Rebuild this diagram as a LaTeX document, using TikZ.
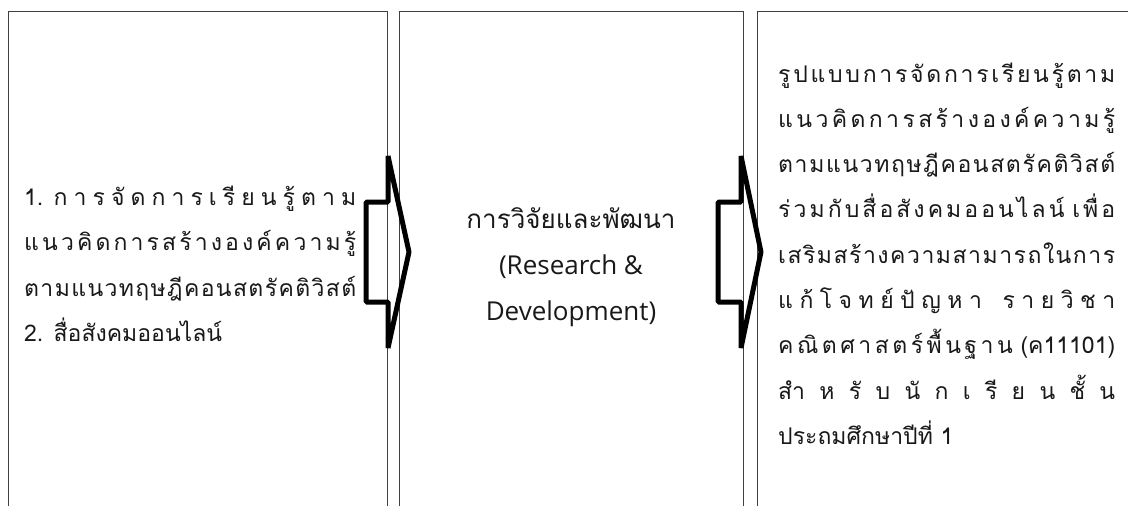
\documentclass[tikz,border=0pt]{standalone}
\usepackage{fontspec}
\setmainfont[Script=Thai]{Loma}
\newfontfamily\latinfont{Open Sans}
\usetikzlibrary{calc}

% Thai distributed lines: stretch between character cells
\newXeTeXintercharclass\thaibase
\newXeTeXintercharclass\thaimark
\makeatletter
\count@="0E01
\loop\XeTeXcharclass\count@=\thaibase\advance\count@\@ne\ifnum\count@<"0E5C\repeat
\count@="0E34
\loop\XeTeXcharclass\count@=\thaimark\advance\count@\@ne\ifnum\count@<"0E3B\repeat
\count@="0E47
\loop\XeTeXcharclass\count@=\thaimark\advance\count@\@ne\ifnum\count@<"0E4F\repeat
\makeatother
\XeTeXcharclass"0E31=\thaimark
\XeTeXcharclass"0E33=\thaimark
\XeTeXinterchartoks\thaibase\thaibase={\nobreak\hskip0pt plus1fil\relax}
\XeTeXinterchartoks\thaimark\thaibase={\nobreak\hskip0pt plus1fil\relax}
\newcommand{\jline}[1]{\noindent\makebox[\hsize][s]{\XeTeXinterchartokenstate=1 #1}\par}
\newcommand{\lastline}[1]{\noindent#1\par}

\begin{document}
\begin{tikzpicture}[x=1pt, y=-1pt]
        \tikzstyle{panel} = [draw=black!75, line width=1pt, rectangle, minimum height=540pt, inner sep=0pt, anchor=north west]
        \tikzstyle{blockarrow} = [draw=black, line width=5pt, line join=bevel]
        \tikzstyle{label} = [inner sep=0pt, text=black!90]
        \useasboundingbox (0,0) rectangle (1128,506);
        \clip (0,0) rectangle (1128,506);

        \node[panel, minimum width=378.5pt](Input) at (8,11) {};
        \node[panel, minimum width=344pt](Method) at (399,11) {};
        \node[panel, minimum width=400pt](Output) at (757,11) {};

        \coordinate (ArrowA) at (388,252);
        \coordinate (ArrowB) at (741,252);
        \draw [blockarrow] ($(ArrowA)+(0,-50)$) -- ++(-22,0) -- ++(0,100) -- ++(22,0) -- ++(0,46) -- ($(ArrowA)+(21,0)$) -- ($(ArrowA)+(0,-96)$) -- cycle;
        \draw [blockarrow] ($(ArrowB)+(0,-50)$) -- ++(-23,0) -- ++(0,100) -- ++(23,0) -- ++(0,46) -- ($(ArrowB)+(20,0)$) -- ($(ArrowB)+(0,-96)$) -- cycle;

        \node[label, anchor=base west](Inputtext) at (24,205) {\parbox[t]{332pt}{\fontsize{23}{45.5}\selectfont
            \jline{1. การจัดการเรียนรู้ตาม}
            \jline{แนวคิดการสร้างองค์ความรู้}
            \jline{ตามแนวทฤษฎีคอนสตรัคติวิสต์}
            \lastline{2. สื่อสังคมออนไลน์}}};
        \node[label, anchor=base](Methodtext) at (571,228) {\parbox[t]{320pt}{\centering\fontsize{26}{46}\selectfont
            การวิจัยและพัฒนา\\{\latinfont (Research \&}\\{\latinfont Development)}}};
        \node[label, anchor=base west](Outputtext) at (778,82) {\parbox[t]{337pt}{\fontsize{23}{45.3}\selectfont
            \jline{รูปแบบการจัดการเรียนรู้ตาม}
            \jline{แนวคิดการสร้างองค์ความรู้}
            \jline{ตามแนวทฤษฎีคอนสตรัคติวิสต์}
            \jline{ร่วมกับสื่อสังคมออนไลน์ เพื่อ}
            \jline{เสริมสร้างความสามารถในการ}
            \jline{แก้โจทย์ปัญหา\hspace{0pt plus 2fil} รายวิชา}
            \jline{คณิตศาสตร์พื้นฐาน (ค11101)}
            \jline{สำหรับนักเรียนชั้น}
            \lastline{ประถมศึกษาปีที่ 1}}};

    \end{tikzpicture}
\end{document}
